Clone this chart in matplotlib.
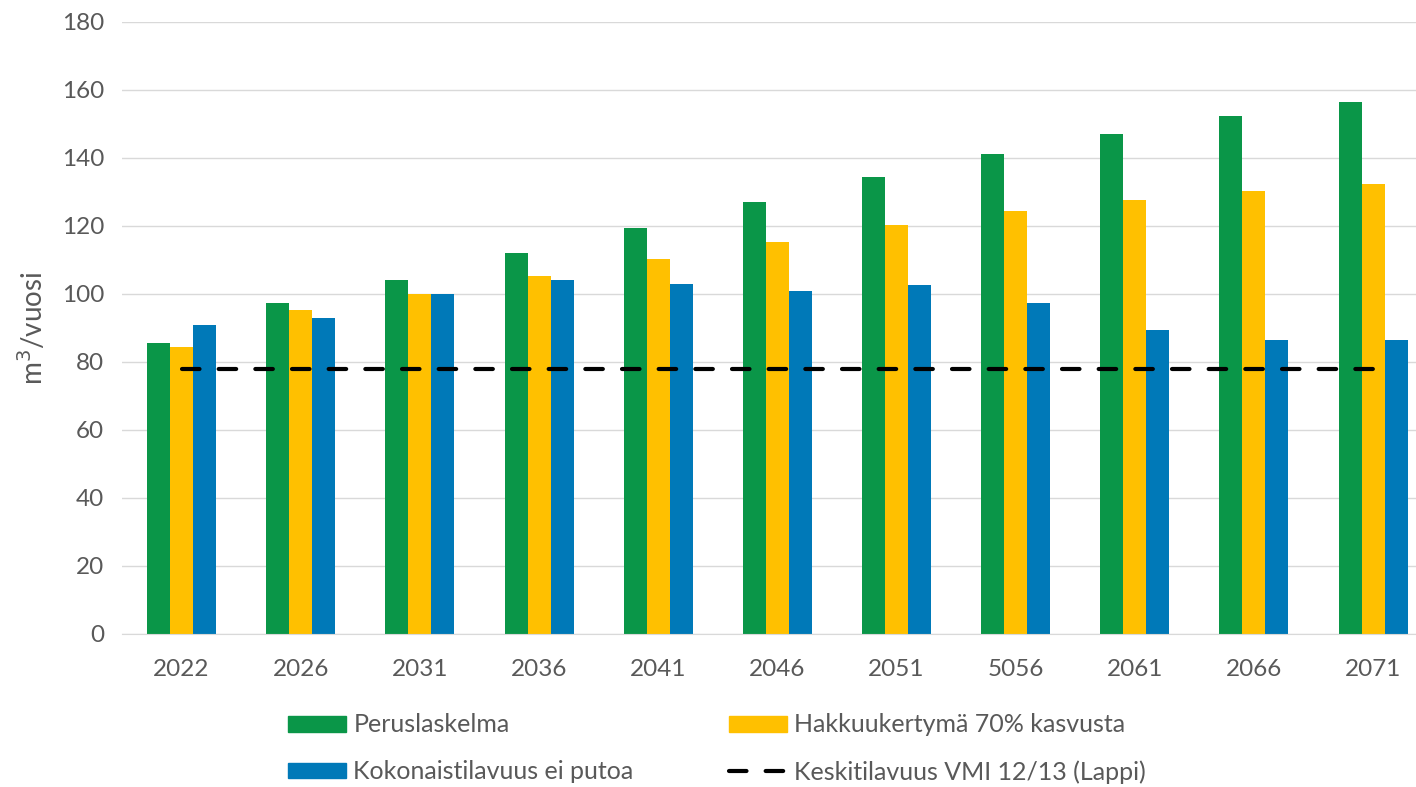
import numpy as np
import matplotlib.pyplot as plt
from matplotlib.lines import Line2D
from matplotlib.patches import Patch

# vuodet (x-akselin luokat)
years = ['2022', '2026', '2031', '2036', '2041', '2046', '2051', '5056', '2061', '2066', '2071']

# sarjat, m3/vuosi
perus = [85.5, 97.4, 104.1, 112.0, 119.4, 127.0, 134.5, 141.1, 147.2, 152.3, 156.6]
hakkuu70 = [84.4, 95.3, 99.9, 105.3, 110.4, 115.3, 120.2, 124.3, 127.7, 130.3, 132.4]
kokonais = [90.8, 92.8, 100.1, 104.1, 103.0, 100.8, 102.6, 97.3, 89.3, 86.4, 86.4]
keskitilavuus = [78] * len(years)

labels = ['Peruslaskelma', 'Hakkuukertymä 70% kasvusta',
          'Kokonaistilavuus ei putoa', 'Keskitilavuus VMI 12/13 (Lappi)']

GREEN = '#0A9648'
ORANGE = '#FFC000'
BLUE = '#0079B8'
GRAY = '#595959'

plt.rcParams['font.family'] = ['Lato', 'DejaVu Sans']

fig = plt.figure(figsize=(14.16, 7.87), dpi=100)
ax = fig.add_axes([122 / 1416, 1 - 634 / 787, 1 - 122 / 1416, (634 - 22) / 787])

x = np.arange(len(years))
w = 0.193
ax.bar(x - w, perus, w, color=GREEN, zorder=2)
ax.bar(x, hakkuu70, w, color=ORANGE, zorder=2)
ax.bar(x + w, kokonais, w, color=BLUE, zorder=2)
ax.plot(x, keskitilavuus, color='black', lw=3, dashes=(4.2, 4.6),
        dash_capstyle='round', zorder=3)

ax.set_ylim(0, 180)
ax.set_yticks(range(0, 181, 20))
ax.set_xlim(-0.5, 10.36)
ax.set_xticks(x)
ax.set_xticklabels(years)
ax.grid(axis='y', color='#D9D9D9', lw=1, zorder=0)
ax.set_axisbelow(True)
for s in ['top', 'right', 'left']:
    ax.spines[s].set_visible(False)
ax.spines['bottom'].set_color('#D9D9D9')
ax.tick_params(length=0, labelsize=17.5, colors=GRAY)
ax.tick_params(axis='y', pad=13)
ax.tick_params(axis='x', pad=18)
ax.set_ylabel('m$^3$/vuosi', fontsize=20, color=GRAY, labelpad=10)

handles = [Patch(color=GREEN), Patch(color=ORANGE), Patch(color=BLUE),
           Line2D([0], [0], color='black', lw=3, dashes=(4.2, 4.6), dash_capstyle='round')]
order = [0, 2, 1, 3]
leg = fig.legend([handles[i] for i in order], [labels[i] for i in order],
                 ncol=2, loc='upper left', bbox_to_anchor=(265 / 1416, 1 - 691 / 787),
                 frameon=False, fontsize=18,
                 handlelength=2.35, handleheight=0.6,
                 handletextpad=0.28, columnspacing=3.8, labelspacing=0.95)
for t in leg.get_texts():
    t.set_color(GRAY)

fig.savefig('out.png', dpi=100)
